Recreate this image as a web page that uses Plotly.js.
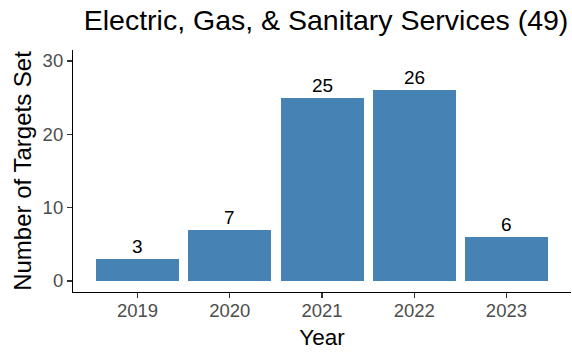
<!DOCTYPE html>
<html><head><meta charset="utf-8">
<script src="https://cdn.plot.ly/plotly-3.0.1.min.js"></script>
<style>body{margin:0;padding:0;background:#fff}#chart{width:572px;height:352px}</style>
</head><body><div id="chart"></div>
<script>
const years = ["2019", "2020", "2021", "2022", "2023"];
const targets = [3, 7, 25, 26, 6];
const yTicks = [0, 10, 20, 30];
const titleText = "Electric, Gas, & Sanitary Services (49)";
const FONT = "Liberation Sans, Arial, sans-serif";

const trace = {
  type: "bar",
  x: years,
  y: targets,
  width: 0.9,
  marker: {color: "#4682b4", line: {width: 0}},
  hoverinfo: "none"
};

// category axes place annotations by category index
const labels = years.map((yr, i) => ({
  x: i, y: targets[i], xref: "x", yref: "y",
  text: String(targets[i]), showarrow: false,
  yanchor: "bottom", yshift: 1, borderpad: 0,
  font: {family: FONT, size: 19, color: "#000"}
}));

const layout = {
  width: 572, height: 352,
  margin: {l: 73, r: 1, t: 50, b: 60},
  paper_bgcolor: "#fff", plot_bgcolor: "#fff",
  showlegend: false,
  bargap: 0,
  annotations: labels,
  title: {text: titleText, x: 0.570, xanchor: "center", y: 0.943, yanchor: "middle",
          font: {family: FONT, size: 28.5, color: "#000"}},
  xaxis: {
    type: "category",
    range: [-0.7, 4.7],
    showline: true, linecolor: "#000", linewidth: 1.1,
    ticks: "outside", ticklen: 5, tickcolor: "#333", tickwidth: 1.1,
    ticklabelstandoff: -3,
    showgrid: false, zeroline: false,
    tickfont: {family: FONT, size: 18.5, color: "#4d4d4d"},
    title: {text: "Year", standoff: 9, font: {family: FONT, size: 22.5, color: "#000"}}
  },
  yaxis: {
    range: [-1.5, 31.5],
    tickvals: yTicks,
    showline: true, linecolor: "#000", linewidth: 1.1,
    ticks: "outside", ticklen: 5, tickcolor: "#333", tickwidth: 1.1,
    showgrid: false, zeroline: false,
    tickfont: {family: FONT, size: 18.5, color: "#4d4d4d"},
    title: {text: "Number of Targets Set", standoff: 4, font: {family: FONT, size: 24, color: "#000"}}
  }
};

Plotly.newPlot("chart", [trace], layout, {displayModeBar: false, staticPlot: true});
</script></body></html>
